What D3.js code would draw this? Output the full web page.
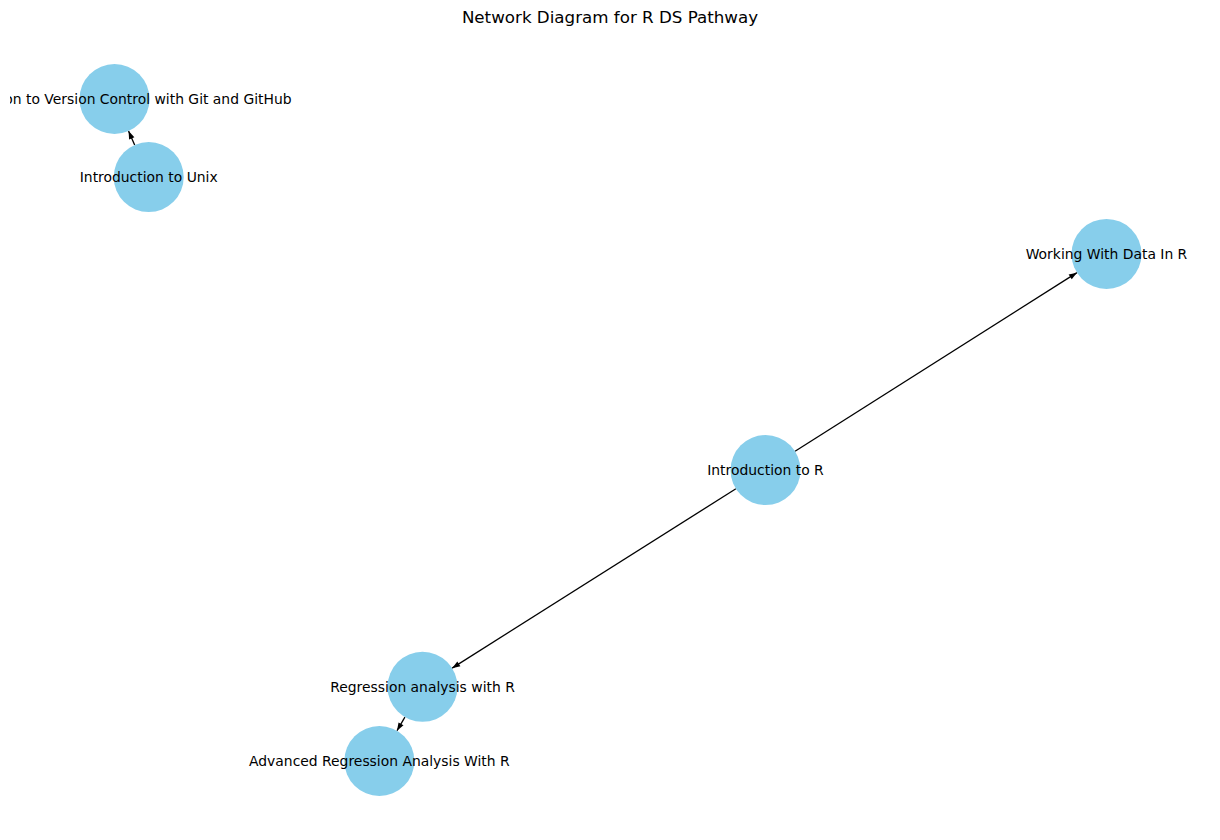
<!DOCTYPE html>
<html>
<head>
<meta charset="utf-8">
<script src="https://cdn.jsdelivr.net/npm/d3@7"></script>
<style>
  html, body { margin: 0; padding: 0; background: #fff; }
  svg { display: block; font-family: "DejaVu Sans", sans-serif; }
</style>
</head>
<body>
<svg id="chart"></svg>
<script>
// node names and layout positions (layout units, y up)
const nodeNames = [
  "Introduction to Version Control with Git and GitHub",
  "Introduction to Unix",
  "Working With Data In R",
  "Introduction to R",
  "Regression analysis with R",
  "Advanced Regression Analysis With R"
];
const nodeX = [-1.0, -0.931, 1.0, 0.3125, -0.379, -0.466];
const nodeY = [1.0, 0.764, 0.532, -0.121, -0.776, -1.0];

// directed edges: [source, target]
const edgeList = [
  ["Introduction to Unix", "Introduction to Version Control with Git and GitHub"],
  ["Introduction to R", "Working With Data In R"],
  ["Introduction to R", "Regression analysis with R"],
  ["Regression analysis with R", "Advanced Regression Analysis With R"]
];

const title = "Network Diagram for R DS Pathway";

const width = 1220, height = 840;
const margin = { top: 30, right: 10, bottom: 10, left: 10 };
const nodeRadius = 35;

const svg = d3.select('#chart')
  .attr('width', width)
  .attr('height', height);

const xScale = d3.scaleLinear().domain([-1, 1]).range([114.5, 1106.5]);
const yScale = d3.scaleLinear().domain([-1, 1]).range([761, 99]);

const nodes = nodeNames.map((name, i) => ({ name, x: xScale(nodeX[i]), y: yScale(nodeY[i]) }));
const byName = new Map(nodes.map(d => [d.name, d]));

// clip region = axes area (the long label is cut at the left edge, as in the original)
svg.append('defs').append('clipPath')
  .attr('id', 'axclip')
  .append('rect')
  .attr('x', margin.left)
  .attr('y', margin.top)
  .attr('width', width - margin.left - margin.right)
  .attr('height', height - margin.top - margin.bottom);

svg.append('defs').append('marker')
  .attr('id', 'arrow')
  .attr('viewBox', '0 -5 10 10')
  .attr('refX', 10)
  .attr('refY', 0)
  .attr('markerUnits', 'userSpaceOnUse')
  .attr('markerWidth', 10)
  .attr('markerHeight', 8)
  .attr('orient', 'auto')
  .append('path')
  .attr('d', 'M0,-3.6L10,0L0,3.6Z')
  .attr('fill', '#000');

const g = svg.append('g').attr('clip-path', 'url(#axclip)');

// edges, trimmed to node boundaries
g.selectAll('.edge')
  .data(edgeList)
  .enter()
  .append('line')
  .attr('class', 'edge')
  .each(function([s, t]) {
    const a = byName.get(s), b = byName.get(t);
    const dx = b.x - a.x, dy = b.y - a.y;
    const len = Math.hypot(dx, dy);
    const ux = dx / len, uy = dy / len;
    d3.select(this)
      .attr('x1', a.x + ux * nodeRadius)
      .attr('y1', a.y + uy * nodeRadius)
      .attr('x2', b.x - ux * nodeRadius)
      .attr('y2', b.y - uy * nodeRadius);
  })
  .attr('stroke', '#000')
  .attr('stroke-width', 1.3)
  .attr('marker-end', 'url(#arrow)');

// nodes
g.selectAll('.node')
  .data(nodes)
  .enter()
  .append('circle')
  .attr('class', 'node')
  .attr('cx', d => d.x)
  .attr('cy', d => d.y)
  .attr('r', nodeRadius)
  .attr('fill', '#87CEEB');

// labels
g.selectAll('.label')
  .data(nodes)
  .enter()
  .append('text')
  .attr('class', 'label')
  .attr('x', d => d.x)
  .attr('y', d => d.y)
  .attr('text-anchor', 'middle')
  .attr('dominant-baseline', 'central')
  .attr('font-size', '13.9px')
  .attr('fill', '#000')
  .text(d => d.name);

svg.append('text')
  .attr('x', width / 2)
  .attr('y', 17)
  .attr('text-anchor', 'middle')
  .attr('dominant-baseline', 'central')
  .attr('font-size', '16.7px')
  .attr('fill', '#000')
  .text(title);
</script>
</body>
</html>
